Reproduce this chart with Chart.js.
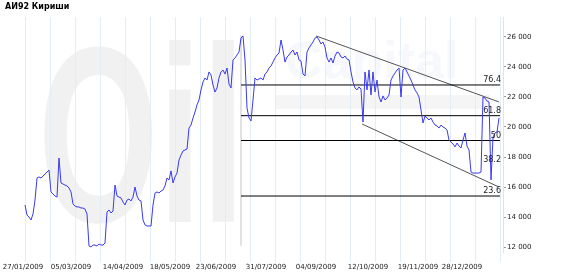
<!DOCTYPE html>
<html>
<head>
<meta charset="utf-8">
<script src="https://cdn.jsdelivr.net/npm/chart.js@4.4.0/dist/chart.umd.min.js"></script>
<style>
  html, body { margin: 0; padding: 0; background: #fff; }
</style>
</head>
<body>
<canvas id="chart" width="570" height="275"></canvas>
<script>
// ====== DATA ======
const chartTitle = "АИ92 Кириши";

// daily prices, one per trading day
const prices = [
  14800, 14130, 14000, 13800, 14200, 15130, 16600, 16670, 16600, 16730,
  16870, 17000, 17130, 15670, 15530, 15400, 15330, 17930, 16270, 16200,
  16130, 16070, 15930, 15670, 14870, 14730, 14670, 14670, 14600, 14600,
  14530, 14200, 12070, 12000, 12130, 12130, 12070, 12200, 12130, 12130,
  12270, 14330, 14470, 14270, 14400, 16130, 15400, 15330, 15270, 15000,
  14800, 15130, 15200, 15070, 15330, 16000, 15400, 15130, 15070, 13800,
  13470, 13400, 13400, 13400, 14800, 15600, 15670, 15600, 15730, 15800,
  16070, 16600, 16470, 17070, 16270, 16670, 16930, 17800, 18130, 18400,
  18470, 18530, 19930, 20130, 20600, 21000, 21470, 21800, 22470, 23000,
  23270, 23130, 23670, 23470, 22800, 22330, 22600, 23270, 23670, 23800,
  23530, 23930, 22870, 22600, 24470, 24600, 24800, 25000, 25930, 26070,
  24470, 21270, 20600, 20400, 21800, 23270, 23130, 23200, 23270, 23130,
  23530, 23670, 23930, 24070, 24330, 24600, 24800, 24930, 25800, 25130,
  24330, 24670, 24800, 25000, 25130, 24800, 25000, 24470, 24400, 23530,
  23400, 25000, 25270, 25470, 25670, 25930, 26000, 25800, 25530, 25670,
  25330, 24600, 24330, 24600, 24270, 24730, 25000, 24930, 24670, 24600,
  24730, 24530, 24470, 23670, 23000, 22600, 22470, 22670, 22530, 20330,
  23670, 22470, 23800, 22130, 23670, 22330, 23130, 22000, 21670, 22070,
  21800, 21930, 22130, 23130, 23400, 23600, 23800, 23930, 22000, 23800,
  23930, 23670, 23400, 23130, 22800, 22470, 22270, 22000, 21130, 20270,
  20730, 20600, 20470, 20600, 20330, 20130, 20070, 19930, 20130, 20000,
  19930, 19800, 19130, 19000, 18870, 18670, 18930, 18730, 18600, 19130,
  19600, 18730, 18470, 17000, 16930, 16930, 16930, 16930, 17000, 22000,
  21930, 21730, 21670, 16470, 19330, 19600, 19670, 20600
];

const dateLabels = ["27/01/2009", "05/03/2009", "14/04/2009", "18/05/2009", "23/06/2009",
                    "31/07/2009", "04/09/2009", "12/10/2009", "19/11/2009", "28/12/2009"];
const dateTickIdx = [-1, 23, 49, 72.5, 95.5, 120.5, 145.5, 171.5, 196.5, 218.5];
const priceTicks = [12000, 14000, 16000, 18000, 20000, 22000, 24000, 26000];

// fibonacci retracement
const fibLevels = [76.4, 61.8, 50, 38.2, 23.6];
const fibLineShown = [true, true, true, false, true];
const fibHigh = 26110;
const fibLow = 12090;
const fibStartIdx = 108;

// trend channel
const channelTop = [{ x: 145.5, y: 26070 }, { x: 237, y: 21670 }];
const channelBottom = [{ x: 168.5, y: 20200 }, { x: 237, y: 16000 }];

// ====== BUILD ======
const lastIdx = prices.length - 1;
const endIdx = lastIdx + 0.5;
const gridTicks = [];
for (let v = 0; v <= lastIdx + 2; v += 12.5) gridTicks.push(v);

const fibValue = p => fibLow + (fibHigh - fibLow) * p / 100;

const datasets = [{
  data: prices.map((v, i) => ({ x: i, y: v })),
  borderColor: "#3a3aee",
  borderWidth: 1,
  pointRadius: 0,
  tension: 0
}];

fibLevels.forEach((lvl, k) => {
  if (!fibLineShown[k]) return;
  datasets.push({
    data: [{ x: fibStartIdx, y: fibValue(lvl) }, { x: endIdx, y: fibValue(lvl) }],
    borderColor: "#000",
    borderWidth: 1,
    pointRadius: 0
  });
});

datasets.push({
  data: [{ x: fibStartIdx, y: fibLow }, { x: fibStartIdx, y: fibHigh }],
  borderColor: "#c4c4c4",
  borderWidth: 1,
  pointRadius: 0
});

[channelTop, channelBottom].forEach(seg => {
  datasets.push({
    data: seg,
    borderColor: "#555",
    borderWidth: 1,
    pointRadius: 0
  });
});

// white background + faint logo watermark
const backdrop = {
  id: "backdrop",
  beforeDraw(chart) {
    const ctx = chart.ctx;
    ctx.save();
    ctx.fillStyle = "#fff";
    ctx.fillRect(0, 0, chart.width, chart.height);
    ctx.fillStyle = "rgba(0,0,0,0.055)";
    ctx.translate(38, 222);
    ctx.scale(0.62, 1);
    ctx.font = "bold 250px 'Liberation Sans'";
    ctx.fillText("Oil", 0, 0);
    ctx.restore();
    ctx.save();
    ctx.fillStyle = "rgba(70,120,200,0.05)";
    ctx.font = "bold 52px 'Liberation Sans'";
    ctx.fillText("Capital", 285, 78);
    ctx.fillStyle = "rgba(0,0,0,0.04)";
    ctx.fillRect(275, 95, 215, 14);
    ctx.restore();
  }
};

// title and fibonacci level captions
const captions = {
  id: "captions",
  afterDatasetsDraw(chart) {
    const ctx = chart.ctx;
    const xs = chart.scales.x, ys = chart.scales.y;
    ctx.save();
    ctx.fillStyle = "#000";
    ctx.font = "bold 8px 'DejaVu Sans'";
    ctx.textAlign = "left";
    ctx.textBaseline = "top";
    ctx.fillText(chartTitle, 5, 3);

    ctx.font = "8px 'DejaVu Sans'";
    ctx.fillStyle = "#222";
    ctx.textAlign = "right";
    ctx.textBaseline = "bottom";
    const xr = xs.getPixelForValue(endIdx) + 1;
    fibLevels.forEach(lvl => {
      ctx.fillText(String(lvl), xr, ys.getPixelForValue(fibValue(lvl)) - 1);
    });
    ctx.restore();
  }
};

new Chart(document.getElementById("chart"), {
  type: "line",
  data: { datasets },
  plugins: [backdrop, captions],
  options: {
    responsive: false,
    animation: false,
    layout: { padding: { top: 17, left: 0, right: 0, bottom: 0 } },
    plugins: { legend: { display: false }, tooltip: { enabled: false } },
    scales: {
      x: {
        type: "linear",
        min: -12.5,
        max: lastIdx + 2,
        afterBuildTicks: scale => {
          scale.ticks = gridTicks.concat(dateTickIdx)
            .sort((a, b) => a - b)
            .map(v => ({ value: v }));
        },
        afterFit: scale => {
          scale.height = 23;
          scale.paddingLeft = 0;
          scale.paddingRight = 0;
        },
        border: { display: false },
        grid: {
          color: c => (c.tick && dateTickIdx.includes(c.tick.value)) ? "rgba(0,0,0,0)" : "#e3edf5",
          tickLength: 10
        },
        ticks: {
          autoSkip: false,
          maxRotation: 0,
          padding: 1,
          color: "#222",
          font: { family: "DejaVu Sans", size: 7 },
          callback: v => {
            const k = dateTickIdx.indexOf(v);
            return k >= 0 ? dateLabels[k] : "";
          }
        }
      },
      y: {
        position: "right",
        min: 11667,
        max: 27333,
        afterBuildTicks: scale => {
          scale.ticks = priceTicks.map(v => ({ value: v }));
        },
        afterFit: scale => { scale.width = 67; },
        border: { display: true, color: "#dbe5ee" },
        grid: { drawOnChartArea: false, tickLength: 3, color: "#999" },
        ticks: {
          padding: 1,
          color: "#222",
          font: { family: "DejaVu Sans", size: 7 },
          callback: v => (v / 1000) + " 000"
        }
      }
    }
  }
});
</script>
</body>
</html>
